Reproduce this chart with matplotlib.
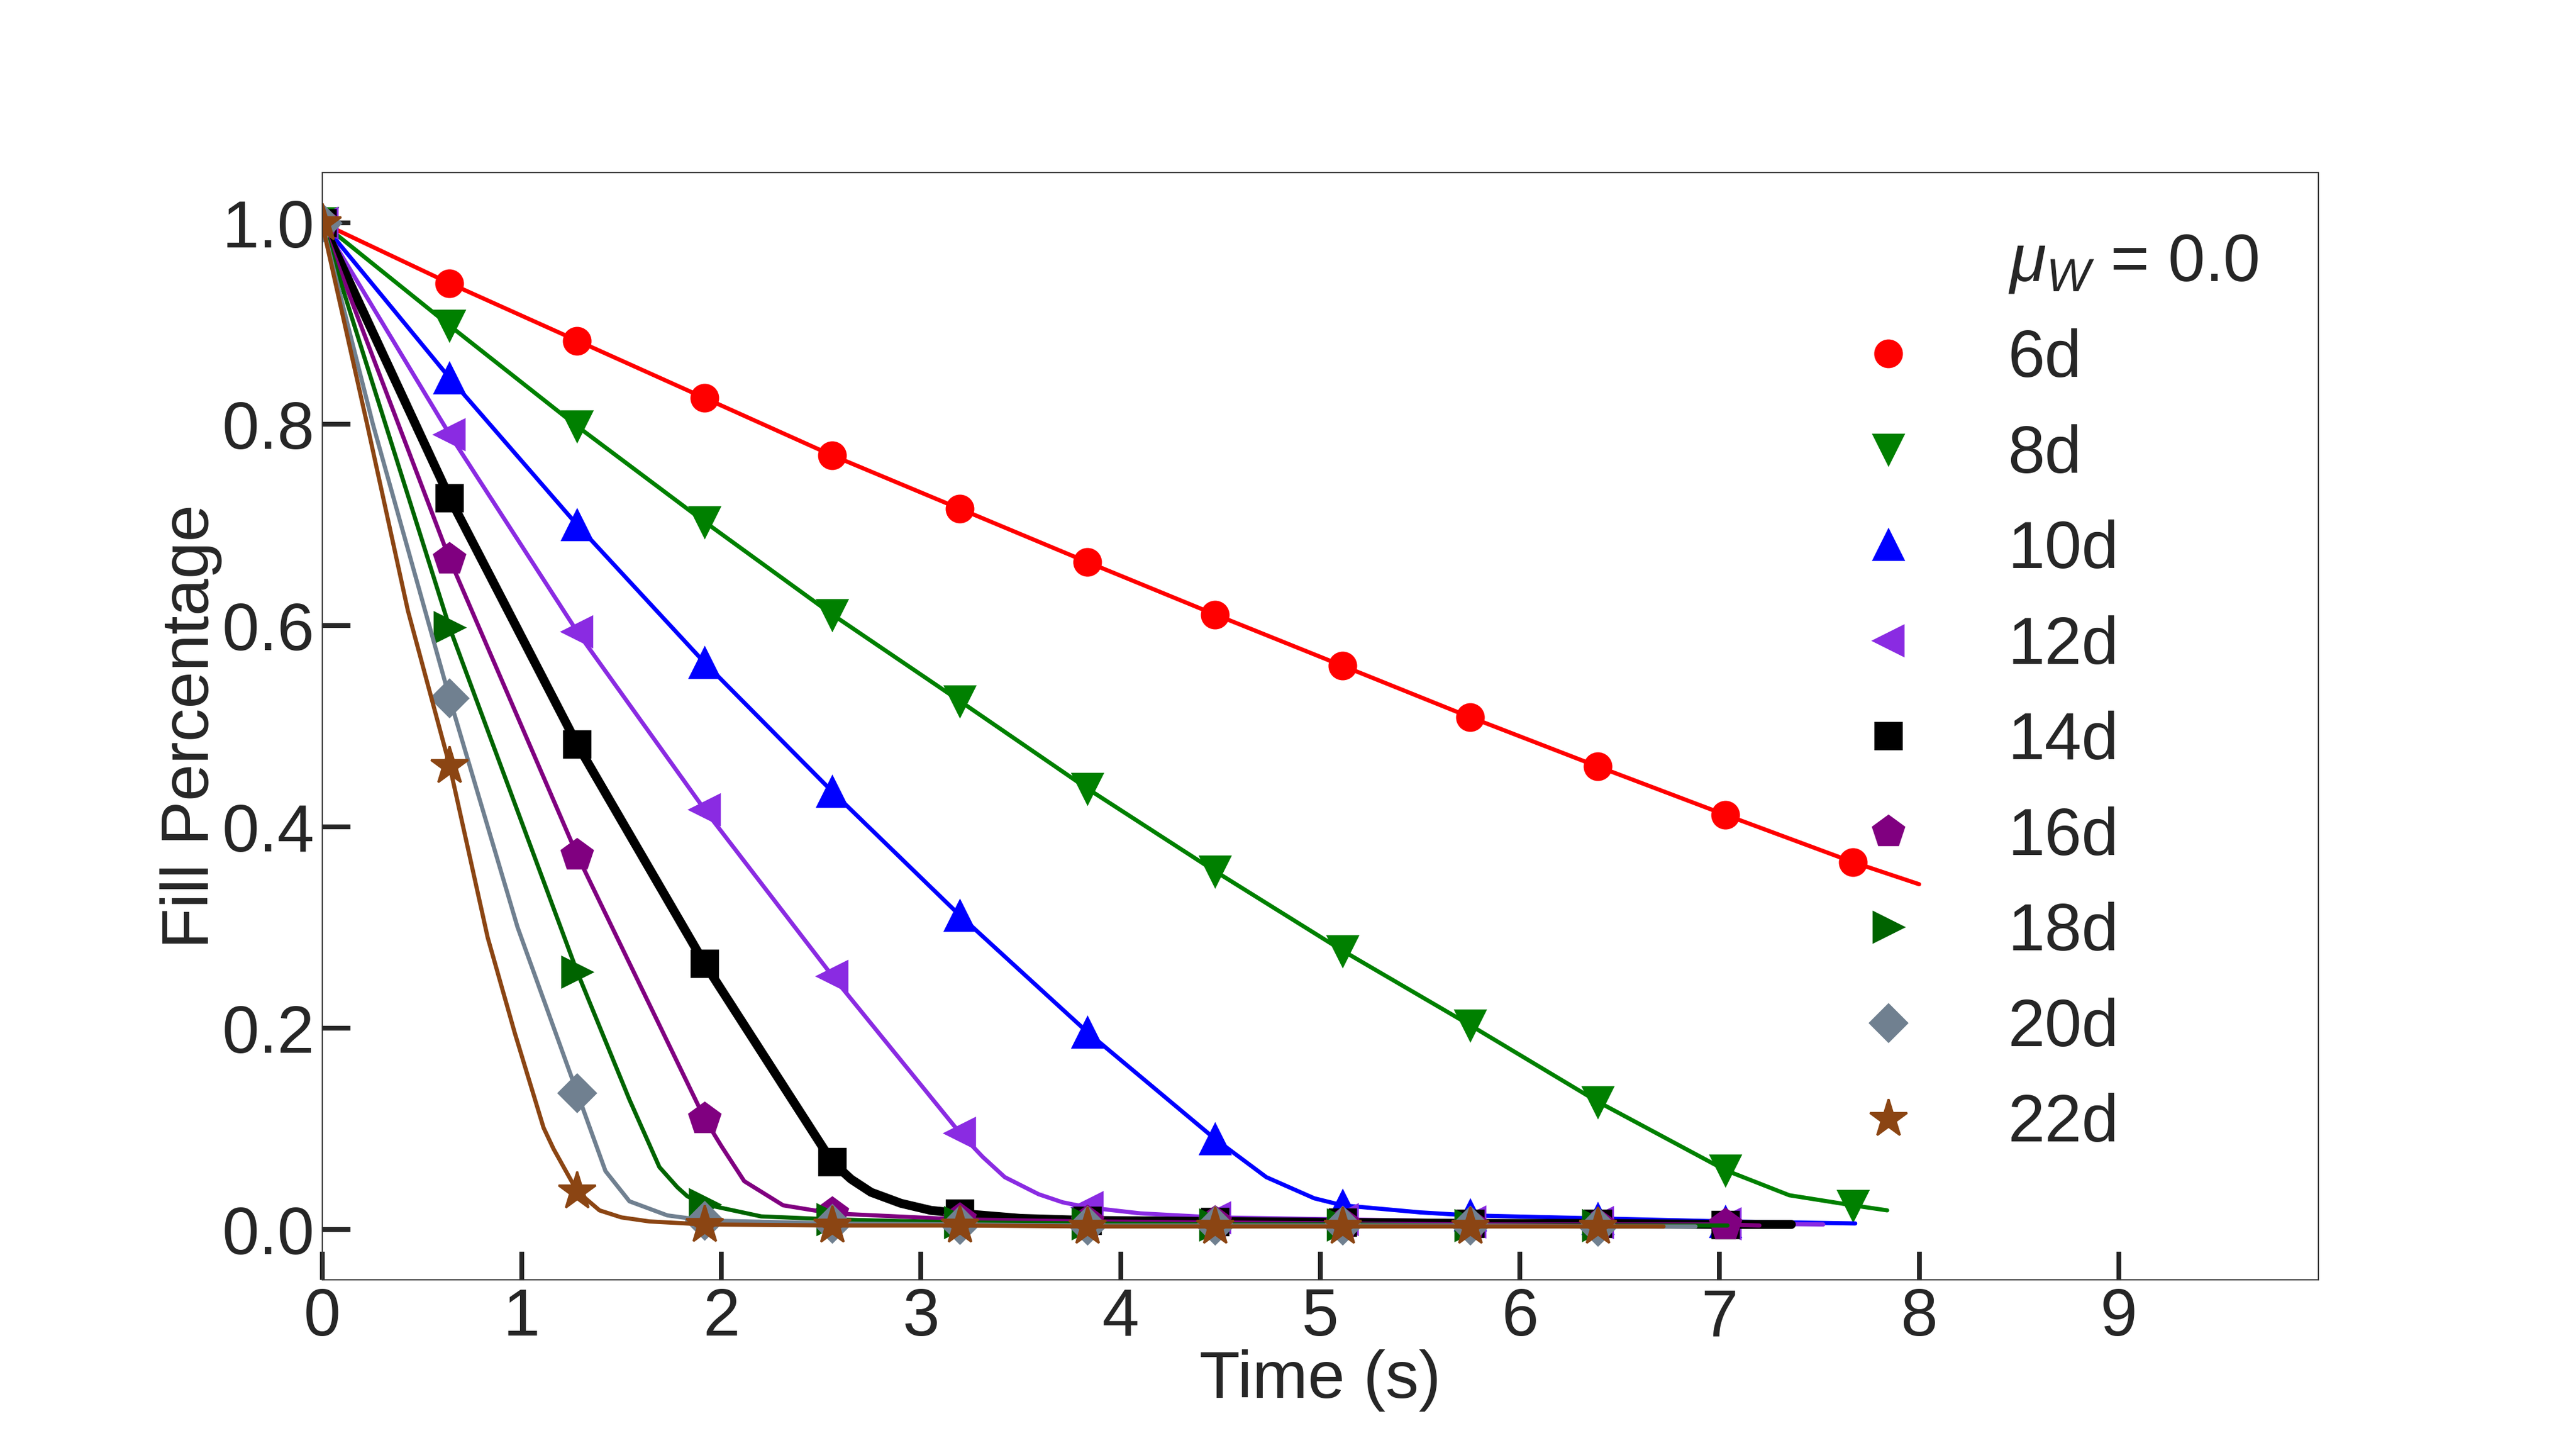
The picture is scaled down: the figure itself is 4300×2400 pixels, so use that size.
import matplotlib

matplotlib.use("Agg")
import matplotlib.pyplot as plt

plt.rcParams["font.family"] = ["Liberation Sans", "DejaVu Sans"]
plt.rcParams["mathtext.fontset"] = "custom"
plt.rcParams["mathtext.rm"] = "Liberation Sans"
plt.rcParams["mathtext.it"] = "Liberation Sans:italic"

TEXT_COLOR = "#262626"

# Time of every marker (s).
MARK_T = [0.0, 0.639, 1.278, 1.917, 2.556, 3.195, 3.834, 4.473, 5.112, 5.751, 6.39, 7.029, 7.668]

# Fill percentage at the markers, one list per diameter.
MARK_6D = [1.0, 0.940, 0.883, 0.826, 0.769, 0.716, 0.663, 0.611, 0.560, 0.509, 0.460, 0.412, 0.365]
MARK_8D = [1.0, 0.898, 0.798, 0.703, 0.611, 0.525, 0.438, 0.356, 0.277, 0.203, 0.127, 0.059, 0.024]
MARK_10D = [1.0, 0.846, 0.700, 0.563, 0.435, 0.312, 0.196, 0.090, 0.024, 0.014, 0.011, 0.008]
MARK_12D = [1.0, 0.790, 0.594, 0.417, 0.252, 0.096, 0.022, 0.012, 0.010, 0.008, 0.007, 0.006]
MARK_14D = [1.0, 0.727, 0.482, 0.264, 0.067, 0.016, 0.009, 0.008, 0.007, 0.006, 0.006, 0.005]
MARK_16D = [1.0, 0.666, 0.372, 0.110, 0.016, 0.010, 0.008, 0.007, 0.006, 0.005, 0.005, 0.005]
MARK_18D = [1.0, 0.598, 0.256, 0.025, 0.010, 0.007, 0.006, 0.005, 0.005, 0.004, 0.004]
MARK_20D = [1.0, 0.528, 0.136, 0.009, 0.006, 0.005, 0.004, 0.004, 0.004, 0.004, 0.003]
MARK_22D = [1.0, 0.461, 0.038, 0.005, 0.004, 0.004, 0.003, 0.003, 0.003, 0.003, 0.003]

# The continuous curves, read at the markers and at extra points along the bends.
LINE_T_6D = [0.0, 0.639, 1.278, 1.917, 2.556, 3.195, 3.834, 4.473, 5.112, 5.751, 6.39, 7.029, 7.668, 8.0]
LINE_Y_6D = [1.0, 0.940, 0.883, 0.826, 0.769, 0.716, 0.663, 0.611, 0.560, 0.509, 0.460, 0.412, 0.365, 0.343]

LINE_T_8D = [0.0, 0.639, 1.278, 1.917, 2.556, 3.195, 3.834, 4.473, 5.112, 5.751, 6.39, 7.029, 7.35, 7.668, 7.84]
LINE_Y_8D = [1.0, 0.898, 0.798, 0.703, 0.611, 0.525, 0.438, 0.356, 0.277, 0.203, 0.127, 0.059, 0.034, 0.024, 0.019]

LINE_T_10D = [0.0, 0.639, 1.278, 1.917, 2.556, 3.195, 3.834, 4.473, 4.73, 4.97, 5.112, 5.5, 5.751, 6.39, 7.029, 7.68]
LINE_Y_10D = [1.0, 0.846, 0.700, 0.563, 0.435, 0.312, 0.196, 0.090, 0.052, 0.031, 0.024, 0.017, 0.014, 0.011, 0.008, 0.006]

LINE_T_12D = [0.0, 0.639, 1.278, 1.917, 2.556, 3.195, 3.31, 3.42, 3.59, 3.71, 3.834, 4.1, 4.473, 5.112, 5.751, 6.39, 7.029, 7.52]
LINE_Y_12D = [1.0, 0.790, 0.594, 0.417, 0.252, 0.096, 0.072, 0.052, 0.035, 0.027, 0.022, 0.016, 0.012, 0.010, 0.008, 0.007, 0.006, 0.005]

LINE_T_14D = [0.0, 0.639, 1.278, 1.917, 2.556, 2.65, 2.75, 2.9, 3.05, 3.195, 3.5, 3.834, 4.473, 5.112, 5.751, 6.39, 7.029, 7.36]
LINE_Y_14D = [1.0, 0.727, 0.482, 0.264, 0.067, 0.050, 0.037, 0.026, 0.019, 0.016, 0.011, 0.009, 0.008, 0.007, 0.006, 0.006, 0.005, 0.005]

LINE_T_16D = [0.0, 0.639, 1.278, 1.917, 2.0, 2.115, 2.31, 2.556, 3.195, 3.834, 4.473, 5.112, 5.751, 6.39, 7.029, 7.2]
LINE_Y_16D = [1.0, 0.666, 0.372, 0.110, 0.083, 0.048, 0.024, 0.016, 0.010, 0.008, 0.007, 0.006, 0.005, 0.005, 0.005, 0.004]

LINE_T_18D = [0.0, 0.639, 1.278, 1.54, 1.69, 1.78, 1.83, 1.917, 2.2, 2.556, 3.195, 3.834, 4.473, 5.112, 5.751, 6.39, 7.04]
LINE_Y_18D = [1.0, 0.598, 0.256, 0.129, 0.062, 0.042, 0.033, 0.025, 0.013, 0.010, 0.007, 0.006, 0.005, 0.005, 0.004, 0.004, 0.004]

LINE_T_20D = [0.0, 0.255, 0.639, 0.98, 1.278, 1.42, 1.54, 1.73, 1.917, 2.556, 3.195, 3.834, 4.473, 5.112, 5.751, 6.39, 6.88]
LINE_Y_20D = [1.0, 0.80, 0.528, 0.30, 0.136, 0.058, 0.028, 0.014, 0.009, 0.006, 0.005, 0.004, 0.004, 0.004, 0.004, 0.003, 0.003]

LINE_T_22D = [0.0, 0.226, 0.43, 0.639, 0.83, 0.966, 1.11, 1.16, 1.278, 1.39, 1.5, 1.64, 1.917, 2.556, 3.195,
              3.834, 4.473, 5.112, 5.751, 6.39, 6.72]
LINE_Y_22D = [1.0, 0.80, 0.615, 0.461, 0.29, 0.195, 0.101, 0.080, 0.038, 0.019, 0.012, 0.008, 0.005, 0.004, 0.004,
              0.003, 0.003, 0.003, 0.003, 0.003, 0.003]

LABELS = ["6d", "8d", "10d", "12d", "14d", "16d", "18d", "20d", "22d"]
X_TICKS = [0, 1, 2, 3, 4, 5, 6, 7, 8, 9]
Y_TICKS = [0.0, 0.2, 0.4, 0.6, 0.8, 1.0]

# Styles per series: colour, marker, marker size (pt), line width (pt).
STYLES = [
    ("red", "o", 12.8, 2.0),
    ("green", "v", 14.4, 2.0),
    ("blue", "^", 14.4, 2.0),
    ("blueviolet", "<", 14.4, 2.0),
    ("black", "s", 12.6, 4.3),
    ("purple", "p", 15.5, 2.0),
    ("darkgreen", ">", 14.4, 2.0),
    ("slategray", "D", 12.8, 2.0),
    ("saddlebrown", "*", 19.0, 2.0),
]


def main() -> None:
    series = [
        (LINE_T_6D, LINE_Y_6D, MARK_6D),
        (LINE_T_8D, LINE_Y_8D, MARK_8D),
        (LINE_T_10D, LINE_Y_10D, MARK_10D),
        (LINE_T_12D, LINE_Y_12D, MARK_12D),
        (LINE_T_14D, LINE_Y_14D, MARK_14D),
        (LINE_T_16D, LINE_Y_16D, MARK_16D),
        (LINE_T_18D, LINE_Y_18D, MARK_18D),
        (LINE_T_20D, LINE_Y_20D, MARK_20D),
        (LINE_T_22D, LINE_Y_22D, MARK_22D),
    ]

    fig = plt.figure(figsize=(17.2, 9.6), dpi=250)
    ax = fig.add_axes([0.125, 0.11, 0.775, 0.77])

    # Invisible first entry so the mu_W note sits in the legend like a row.
    ax.plot([], [], " ", label=r"$\mu_W$ = 0.0")

    for (line_t, line_y, marks), label, (color, marker, size, width) in zip(series, LABELS, STYLES):
        ax.plot(line_t, line_y, color=color, linewidth=width, solid_capstyle="round")
        ax.plot(MARK_T[: len(marks)], marks, linestyle="none", marker=marker, markersize=size,
                color=color, markeredgewidth=1.0, label=label)

    ax.set_xlim(0, 10)
    ax.set_ylim(-0.05, 1.05)
    ax.set_xticks(X_TICKS)
    ax.set_yticks(Y_TICKS)
    ax.set_yticklabels([f"{v:.1f}" for v in Y_TICKS])
    ax.tick_params(direction="in", length=13.5, width=2.3, labelsize=32, colors=TEXT_COLOR, pad=3.5)
    for spine in ax.spines.values():
        spine.set_linewidth(0.6)
        spine.set_color("#3d3d3d")

    ax.set_xlabel("Time (s)", fontsize=32, color=TEXT_COLOR, labelpad=0)
    ax.set_ylabel("Fill Percentage", fontsize=32, color=TEXT_COLOR, labelpad=0)

    legend = ax.legend(loc="upper right", frameon=False, fontsize=32, labelspacing=0.5)
    for text in legend.get_texts():
        text.set_color(TEXT_COLOR)

    fig.savefig("out.png", dpi=250)
    plt.close(fig)


if __name__ == "__main__":
    main()
